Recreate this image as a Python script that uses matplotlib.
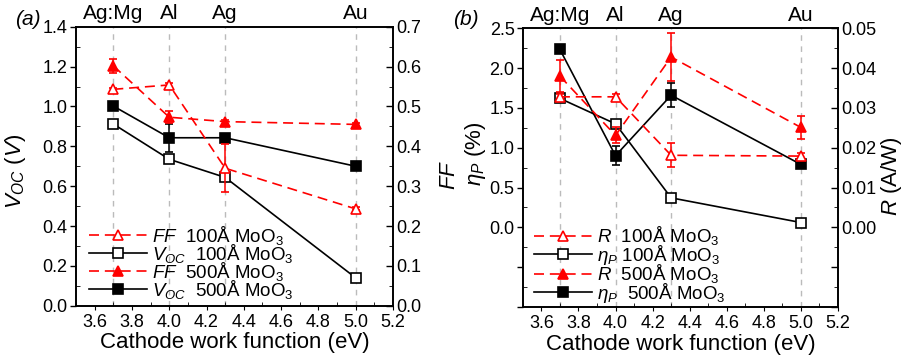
import matplotlib.pyplot as plt
from matplotlib.ticker import MultipleLocator, FuncFormatter
from matplotlib.lines import Line2D
import matplotlib.transforms as mtransforms

plt.rcParams['font.family'] = ['Liberation Sans', 'DejaVu Sans']
plt.rcParams['mathtext.fontset'] = 'custom'
plt.rcParams['mathtext.rm'] = 'Liberation Sans'
plt.rcParams['mathtext.it'] = 'Liberation Sans:italic'
plt.rcParams['mathtext.bf'] = 'Liberation Sans:bold'

# cathode work functions (eV) and metals
wf = [3.7, 4.0, 4.3, 5.0]
metals = ["Ag:Mg", "Al", "Ag", "Au"]

# panel (a)
voc_100 = [0.912, 0.735, 0.644, 0.14]
voc_100_err = [0.01, 0.01, 0.01, 0.01]
voc_500 = [1.002, 0.843, 0.843, 0.70]
voc_500_err = [0.01, 0.07, 0.01, 0.01]
ff_100 = [0.543, 0.554, 0.345, 0.243]
ff_100_err = [0.004, 0.004, 0.06, 0.004]
ff_500 = [0.602, 0.473, 0.462, 0.455]
ff_500_err = [0.018, 0.015, 0.005, 0.004]

# panel (b)
eta_100 = [1.62, 1.30, 0.37, 0.06]
eta_100_err = [0.02, 0.03, 0.03, 0.02]
eta_500 = [2.235, 0.90, 1.66, 0.79]
eta_500_err = [0.03, 0.12, 0.15, 0.03]
r_100 = [0.0328, 0.0328, 0.0181, 0.0179]
r_100_err = [0.0008, 0.0008, 0.003, 0.0008]
r_500 = [0.038, 0.0231, 0.0428, 0.0251]
r_500_err = [0.004, 0.002, 0.006, 0.0028]

RED = "#ff0000"
DASH = (0, (6, 3.5))
MS = 6.5
LW = 1.2
TICK_FS = 13
LEG_FS = 13.5


def series(ax, y, err, color, marker, filled, dashed):
    ax.errorbar(wf, y, yerr=err, color=color, ecolor=color, elinewidth=1.1,
                capsize=3, capthick=1.1, lw=LW,
                ls=DASH if dashed else '-',
                marker=marker, ms=MS, mec=color, mew=1.2,
                mfc=color if filled else 'white', zorder=3)


def handle(color, marker, filled, dashed):
    return Line2D([], [], color=color, lw=LW, ls=DASH if dashed else '-',
                  marker=marker, ms=MS, mec=color, mew=1.2,
                  mfc=color if filled else 'white')


def style_axes(ax, ax2):
    for a in (ax, ax2):
        for sp in a.spines.values():
            sp.set_linewidth(1.2)
    ax.set_xlim(3.5, 5.2)
    ax.xaxis.set_major_locator(MultipleLocator(0.2))
    ax.xaxis.set_minor_locator(MultipleLocator(0.1))
    ax.tick_params(axis='x', which='major', direction='out', length=3, labelsize=TICK_FS, top=False, pad=3)
    ax.tick_params(axis='x', which='minor', direction='in', length=3, top=False)
    ax.tick_params(axis='y', which='major', direction='out', length=4, width=1, labelsize=TICK_FS, pad=2)
    ax.tick_params(axis='y', which='minor', direction='in', length=3)
    ax2.tick_params(axis='y', which='major', direction='in', length=5, width=1, labelsize=TICK_FS, pad=2)
    ax2.tick_params(axis='y', which='minor', direction='in', length=3)
    for x in wf:
        ax.axvline(x, color='#bbbbbb', lw=1, ls=(0, (4, 4)), zorder=0)
    trans = mtransforms.blended_transform_factory(ax.transData, ax.transAxes)
    for x, m in zip(wf, metals):
        ax.text(x, 1.012, m, transform=trans, ha='center', va='bottom', fontsize=15)
    ax.set_xlabel("Cathode work function (eV)", fontsize=16, labelpad=1)


fig = plt.figure(figsize=(9.03, 3.64), dpi=100)

# ---- panel (a)
ax_a = fig.add_axes([0.0842, 0.160, 0.351, 0.7665])
ax_a2 = ax_a.twinx()
series(ax_a2, ff_100, ff_100_err, RED, '^', False, True)
series(ax_a, voc_100, voc_100_err, 'black', 's', False, False)
series(ax_a2, ff_500, ff_500_err, RED, '^', True, True)
series(ax_a, voc_500, voc_500_err, 'black', 's', True, False)
ax_a.set_ylim(0, 1.4)
ax_a2.set_ylim(0, 0.7)
ax_a.yaxis.set_major_locator(MultipleLocator(0.2))
ax_a.yaxis.set_minor_locator(MultipleLocator(0.1))
ax_a2.yaxis.set_major_locator(MultipleLocator(0.1))
ax_a2.yaxis.set_minor_locator(MultipleLocator(0.05))
style_axes(ax_a, ax_a2)
ax_a.set_ylabel(r"$V_{OC}$ $(V)$", fontsize=16)
ax_a.yaxis.set_label_coords(-0.15, 0.48)
ax_a2.set_ylabel(r"$FF$", fontsize=16)
ax_a2.yaxis.set_label_coords(1.145, 0.47)
fig.text(0.017, 0.93, "(a)", fontsize=15, style='italic')

hs = [handle(RED, '^', False, True), handle('black', 's', False, False),
      handle(RED, '^', True, True), handle('black', 's', True, False)]
labels = [r"$FF$  100Å MoO$_3$", r"$V_{OC}$  100Å MoO$_3$",
          r"$FF$  500Å MoO$_3$", r"$V_{OC}$  500Å MoO$_3$"]
ax_a2.legend(hs, labels, loc='lower left', bbox_to_anchor=(0.01, -0.016), frameon=False,
             fontsize=LEG_FS, handlelength=3.1, handletextpad=0.27, labelspacing=-0.27,
             borderpad=0, numpoints=1)

# ---- panel (b)
ax_b = fig.add_axes([0.579, 0.157, 0.349, 0.765])
ax_b2 = ax_b.twinx()
series(ax_b2, r_100, r_100_err, RED, '^', False, True)
series(ax_b, eta_100, eta_100_err, 'black', 's', False, False)
series(ax_b2, r_500, r_500_err, RED, '^', True, True)
series(ax_b, eta_500, eta_500_err, 'black', 's', True, False)
ax_b.set_ylim(-1.0, 2.5)
ax_b2.set_ylim(-0.02, 0.05)
ax_b.yaxis.set_major_locator(MultipleLocator(0.5))
ax_b.yaxis.set_minor_locator(MultipleLocator(0.25))
ax_b2.yaxis.set_major_locator(MultipleLocator(0.01))
ax_b2.yaxis.set_minor_locator(MultipleLocator(0.005))
ax_b.yaxis.set_major_formatter(FuncFormatter(lambda v, p: "" if v < -1e-9 else f"{v:.1f}"))
ax_b2.yaxis.set_major_formatter(FuncFormatter(lambda v, p: "" if v < -1e-9 else f"{v:.2f}"))
style_axes(ax_b, ax_b2)
ax_b.set_ylabel(r"$\eta_P$ (%)", fontsize=16)
ax_b.yaxis.set_label_coords(-0.11, 0.55)
ax_b2.set_ylabel(r"$R$ (A/W)", fontsize=16)
ax_b2.yaxis.set_label_coords(1.13, 0.47)
fig.text(0.502, 0.93, "(b)", fontsize=15, style='italic')

hs = [handle(RED, '^', False, True), handle('black', 's', False, False),
      handle(RED, '^', True, True), handle('black', 's', True, False)]
labels = [r"$R$  100Å MoO$_3$", r"$\eta_P$ 100Å MoO$_3$",
          r"$R$  500Å MoO$_3$", r"$\eta_P$  500Å MoO$_3$"]
ax_b2.legend(hs, labels, loc='lower left', bbox_to_anchor=(0.005, -0.027), frameon=False,
             fontsize=LEG_FS, handlelength=3.1, handletextpad=0.27, labelspacing=-0.24,
             borderpad=0, numpoints=1)

fig.savefig("out.png", dpi=100)
